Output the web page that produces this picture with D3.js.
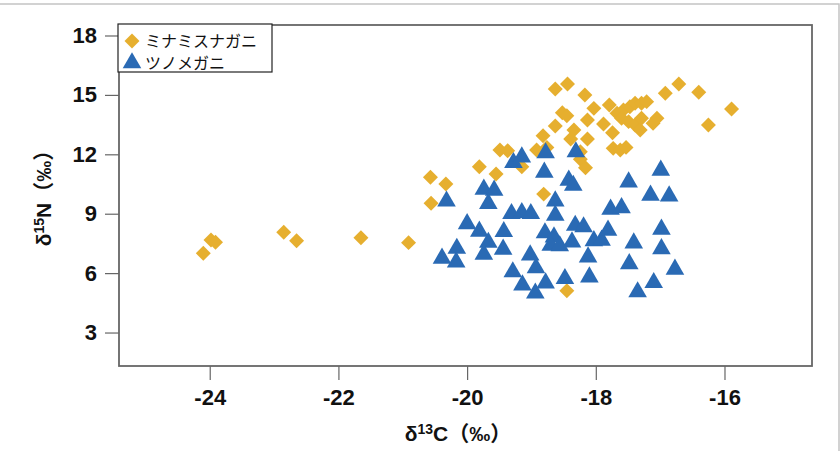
<!DOCTYPE html>
<html>
<head>
<meta charset="utf-8">
<script src="https://cdn.jsdelivr.net/npm/d3@7"></script>
<style>
    body { margin: 0; background: #fff; }
    svg { display: block; }
</style>
</head>
<body>
<svg width="840" height="451"></svg>
<script>
// δ13C / δ15N scatter for two crab species

const speciesNames = ["ミナミスナガニ", "ツノメガニ"];
const xTicks = [-24, -22, -20, -18, -16];
const yTicks = [3, 6, 9, 12, 15, 18];

// ミナミスナガニ (diamonds)
const minamiC = [-24.10, -23.98, -23.91, -22.85, -22.65, -21.65, -20.91, -20.57, -20.56, -20.33,
    -19.81, -19.55, -19.49, -19.37, -19.15, -18.92, -18.76, -18.81, -18.82, -18.63,
    -18.63, -18.44, -18.52, -18.45, -18.34, -18.39, -18.24, -18.24, -18.16, -18.17,
    -18.13, -18.13, -18.03, -17.79, -17.88, -17.74, -17.73, -17.62, -17.53, -17.67,
    -17.57, -17.47, -17.39, -17.29, -17.21, -17.60, -17.49, -17.39, -17.31, -17.29,
    -17.11, -17.05, -16.92, -16.71, -16.40, -15.89, -16.25, -18.45];
const minamiN = [7.00, 7.67, 7.56, 8.06, 7.64, 7.79, 7.54, 10.84, 9.53, 10.50,
    11.37, 11.01, 12.22, 12.18, 11.37, 12.22, 12.35, 9.99, 12.94, 13.43,
    15.30, 15.55, 14.10, 13.95, 13.23, 12.77, 12.13, 11.75, 11.32, 15.00,
    13.73, 12.77, 14.32, 14.49, 13.53, 13.09, 12.30, 12.22, 12.35, 14.07,
    14.24, 14.40, 14.58, 14.58, 14.66, 13.82, 13.65, 13.48, 13.23, 13.82,
    13.57, 13.82, 15.08, 15.55, 15.13, 14.29, 13.48, 5.11];

// ツノメガニ (triangles)
const tsunoC = [-20.32, -19.74, -19.58, -19.67, -20.00, -19.81, -19.43, -19.31, -19.15, -19.01,
    -19.67, -19.74, -19.44, -20.16, -20.39, -20.17, -19.02, -18.93, -19.29, -19.14,
    -18.94, -19.28, -19.15, -18.78, -18.80, -18.31, -18.42, -18.35, -18.63, -18.63,
    -18.32, -18.19, -18.79, -18.65, -18.70, -18.56, -18.37, -18.03, -17.91, -18.12,
    -18.10, -18.48, -18.78, -17.77, -17.60, -17.81, -17.41, -16.98, -16.98, -17.48,
    -16.77, -17.10, -17.35, -17.49, -16.99, -17.15, -16.86];
const tsunoN = [9.63, 10.23, 10.18, 9.51, 8.49, 8.11, 8.09, 9.00, 9.05, 9.00,
    7.55, 6.95, 7.20, 7.25, 6.75, 6.56, 6.91, 6.26, 6.06, 5.40,
    4.99, 11.58, 11.86, 12.07, 11.09, 12.12, 10.69, 10.43, 9.64, 8.92,
    8.41, 8.33, 8.03, 7.82, 7.40, 7.37, 7.57, 7.63, 7.66, 6.81,
    5.80, 5.72, 5.50, 9.22, 9.30, 8.16, 7.52, 8.21, 7.23, 6.47,
    6.19, 5.52, 5.05, 10.60, 11.19, 9.93, 9.89];

const gold = "#e6af2f";
const blue = "#2a6ab4";
const axisGray = "#666";

const svg = d3.select("svg");

// light frame round the picture (top and right only)
svg.append("path")
    .attr("d", "M0 4 H839 V451")
    .attr("fill", "none")
    .attr("stroke", "#c4c4c4")
    .attr("stroke-width", 1.5);

const plot = { left: 119, right: 812, top: 25, bottom: 366 };

const x = d3.scaleLinear()
    .domain([-25.41, -14.64])
    .range([plot.left, plot.right]);

const y = d3.scaleLinear()
    .domain([1.31, 18.53])
    .range([plot.bottom, plot.top]);

const tickFont = "'Liberation Sans', Arial, sans-serif";
const cjkFont = "'Noto Sans CJK JP', sans-serif";

// axes
const xAxis = svg.append("g")
    .attr("transform", `translate(0,${plot.bottom})`)
    .call(d3.axisBottom(x).tickValues(xTicks).tickSize(14).tickPadding(9).tickFormat(d => d));

const yAxis = svg.append("g")
    .attr("transform", `translate(${plot.left},0)`)
    .call(d3.axisLeft(y).tickValues(yTicks).tickSize(14).tickPadding(8).tickFormat(d => d));

[xAxis, yAxis].forEach(a => {
    a.select(".domain").remove();
    a.selectAll(".tick line").attr("stroke", axisGray).attr("stroke-width", 1.2);
    a.selectAll(".tick text")
        .attr("fill", "#111")
        .style("font-family", tickFont)
        .style("font-weight", "bold")
        .style("font-size", "22px");
});

// plot frame
svg.append("rect")
    .attr("x", plot.left)
    .attr("y", plot.top)
    .attr("width", plot.right - plot.left)
    .attr("height", plot.bottom - plot.top)
    .attr("fill", "none")
    .attr("stroke", axisGray)
    .attr("stroke-width", 1.8);

const diamond = d3.symbol().type(d3.symbolSquare).size(112);
const triangle = d3.symbol().type(d3.symbolTriangle).size(150);

// points
svg.append("g")
    .selectAll("path")
    .data(d3.zip(minamiC, minamiN))
    .enter().append("path")
    .attr("d", diamond)
    .attr("transform", d => `translate(${x(d[0])},${y(d[1])}) rotate(45)`)
    .attr("fill", gold);

svg.append("g")
    .selectAll("path")
    .data(d3.zip(tsunoC, tsunoN))
    .enter().append("path")
    .attr("d", triangle)
    .attr("transform", d => `translate(${x(d[0])},${y(d[1])})`)
    .attr("fill", blue);

// axis titles: δ + superscript + letter + full-width (‰)
function axisTitle(sel, sup, letter) {
    sel.style("font-family", tickFont)
        .style("font-weight", "bold")
        .style("font-size", "21px")
        .attr("fill", "#111");
    sel.append("tspan").text("δ");
    sel.append("tspan").attr("dy", -7).style("font-size", "14px").text(sup);
    sel.append("tspan").attr("dy", 7).text(letter);
    sel.append("tspan").style("font-family", cjkFont).text("（");
    sel.append("tspan").text("‰");
    sel.append("tspan").style("font-family", cjkFont).text("）");
}

svg.append("text")
    .attr("x", 458)
    .attr("y", 441)
    .attr("text-anchor", "middle")
    .call(axisTitle, "13", "C");

svg.append("text")
    .attr("transform", "translate(51,193) rotate(-90)")
    .attr("text-anchor", "middle")
    .call(axisTitle, "15", "N");

// legend
const legend = svg.append("g");

legend.append("rect")
    .attr("x", 118)
    .attr("y", 24)
    .attr("width", 154)
    .attr("height", 48)
    .attr("fill", "#fff")
    .attr("stroke", "#222")
    .attr("stroke-width", 1.2);

const keys = [
    { name: speciesNames[0], sym: diamond, color: gold, rot: 45, cy: 41 },
    { name: speciesNames[1], sym: triangle, color: blue, rot: 0, cy: 63 }
];

legend.selectAll("path")
    .data(keys)
    .enter().append("path")
    .attr("d", d => d.sym())
    .attr("transform", d => `translate(132,${d.cy}) rotate(${d.rot})`)
    .attr("fill", d => d.color);

legend.selectAll("text")
    .data(keys)
    .enter().append("text")
    .attr("x", 145)
    .attr("y", d => d.cy + 6)
    .style("font-family", cjkFont)
    .style("font-size", "16px")
    .attr("fill", "#111")
    .text(d => d.name);
</script>
</body>
</html>
